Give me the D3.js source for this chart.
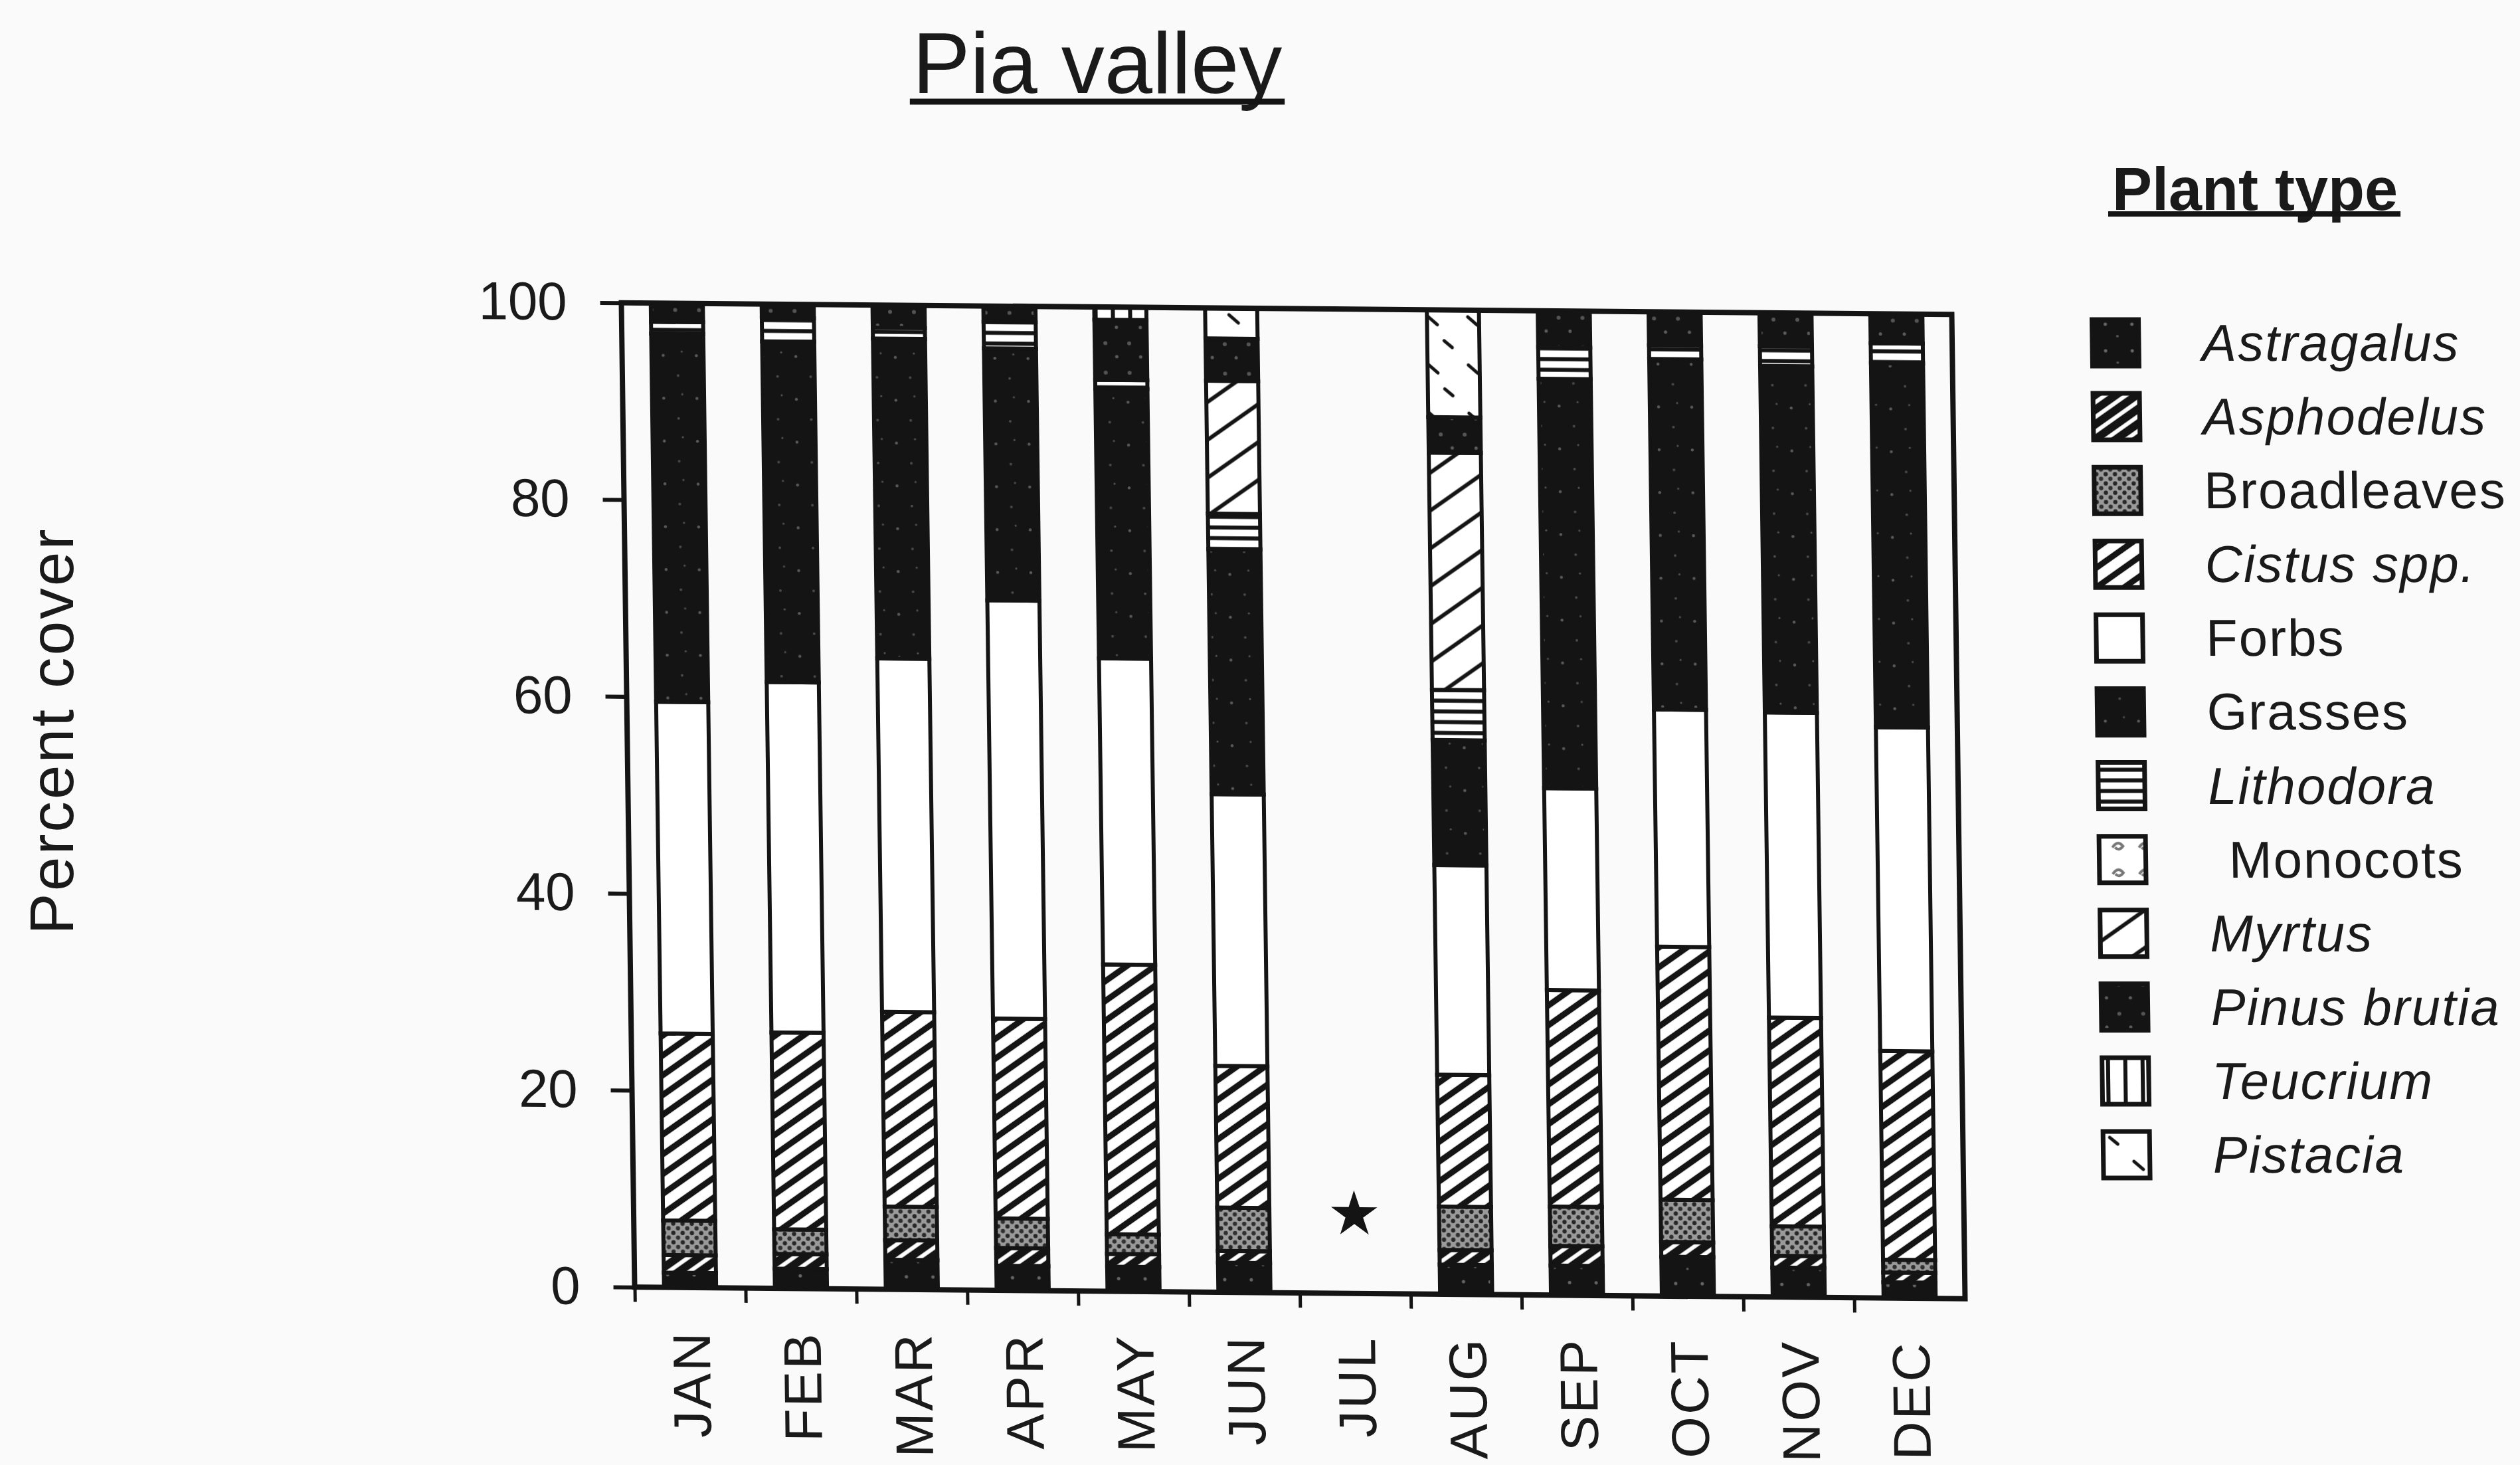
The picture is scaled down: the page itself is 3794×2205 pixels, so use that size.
<!DOCTYPE html>
<html>
<head>
<meta charset="utf-8">
<script src="https://cdn.jsdelivr.net/npm/d3@7"></script>
<style>
  html, body { margin: 0; padding: 0; background: #fafafa; }
  svg { display: block; }
  text { font-family: "Liberation Sans", Arial, Helvetica, sans-serif; fill: #1a1a1a; }
</style>
</head>
<body>
<svg id="chart" width="3794" height="2205"></svg>
<script>
// ---------------- DATA ----------------
const months = ["JAN","FEB","MAR","APR","MAY","JUN","JUL","AUG","SEP","OCT","NOV","DEC"];
const plantTypes = ["Astragalus","Asphodelus","Broadleaves","Cistus spp.","Forbs","Grasses",
                    "Lithodora","Monocots","Myrtus","Pinus brutia","Teucrium","Pistacia"];
const italicTypes = ["Astragalus","Asphodelus","Cistus spp.","Lithodora","Myrtus","Pinus brutia","Teucrium","Pistacia"];

// percent cover per month (JAN..DEC); JUL not sampled
const astragalus  = [1.5, 2.0, 3.0, 2.5, 2.5, 3.0, 0, 3.0, 3.0, 4.0, 3.0, 1.6];
const asphodelus  = [1.8, 1.5, 2.0, 1.8, 1.3, 1.2, 0, 1.5, 2.0, 1.5, 1.2, 1.0];
const broadleaves = [3.5, 2.5, 3.4, 3.0, 2.0, 4.4, 0, 4.4, 4.0, 4.3, 3.0, 1.3];
const cistus      = [19.0, 20.0, 19.8, 20.3, 27.4, 14.4, 0, 13.4, 22.0, 25.7, 21.2, 21.2];
const forbs       = [33.7, 35.6, 35.9, 42.5, 31.1, 27.6, 0, 21.3, 20.5, 24.1, 31.0, 32.9];
const grasses     = [37.4, 34.6, 32.5, 25.6, 27.4, 24.9, 0, 12.7, 41.6, 35.6, 35.2, 37.0];
const lithodora   = [1.2, 2.4, 1.1, 2.7, 0.9, 3.6, 0, 5.1, 3.2, 1.4, 2.0, 2.0];
const monocots    = [0, 0, 0, 0, 0, 0, 0, 0, 0, 0, 0, 0];
const myrtus      = [0, 0, 0, 0, 0, 13.5, 0, 24.1, 0, 0, 0, 0];
const pinusBrutia = [1.9, 1.4, 2.3, 1.6, 6.1, 4.3, 0, 3.6, 3.7, 3.4, 3.4, 3.0];
const teucrium    = [0, 0, 0, 0, 1.3, 0, 0, 0, 0, 0, 0, 0];
const pistacia    = [0, 0, 0, 0, 0, 3.1, 0, 10.9, 0, 0, 0, 0];

const yTicks = [0, 20, 40, 60, 80, 100];
const missingMonth = "JUL";
const missingMarkerValue = 8;

const seriesValues = [astragalus, asphodelus, broadleaves, cistus, forbs, grasses,
                      lithodora, monocots, myrtus, pinusBrutia, teucrium, pistacia];
const table = months.map((m, i) => {
  const row = { month: m };
  plantTypes.forEach((p, k) => { row[p] = seriesValues[k][i]; });
  return row;
});

// ---------------- SETUP ----------------
const INK = "#141414";
const svg = d3.select("#chart");
svg.append("rect").attr("width", 3794).attr("height", 2205).attr("fill", "#fafafa");

const defs = svg.append("defs");
function makePattern(id, w, h, bg, rot) {
  const p = defs.append("pattern").attr("id", id)
    .attr("patternUnits", "userSpaceOnUse").attr("width", w).attr("height", h);
  if (rot) p.attr("patternTransform", `rotate(${rot})`);
  p.append("rect").attr("width", w).attr("height", h).attr("fill", bg);
  return p;
}
// Astragalus: black with faint specks
let p = makePattern("p0", 40, 40, INK);
p.append("circle").attr("cx", 10).attr("cy", 12).attr("r", 2.5).attr("fill", "#666");
p.append("circle").attr("cx", 28).attr("cy", 30).attr("r", 2).attr("fill", "#555");
// Asphodelus: dark with white diagonal stripes
p = makePattern("p1", 18, 18, INK, -35);
p.append("line").attr("x1", 0).attr("x2", 18).attr("y1", 9).attr("y2", 9).attr("stroke", "#fff").attr("stroke-width", 6);
// Broadleaves: dark grey stipple
p = makePattern("p2", 14, 14, "#9a9a9a");
p.append("circle").attr("cx", 3.5).attr("cy", 3.5).attr("r", 3.2).attr("fill", "#262626");
p.append("circle").attr("cx", 10.5).attr("cy", 10.5).attr("r", 3.2).attr("fill", "#303030");
// Cistus: white with black diagonal hatch
p = makePattern("p3", 24, 24, "#fff", -35);
p.append("line").attr("x1", 0).attr("x2", 24).attr("y1", 12).attr("y2", 12).attr("stroke", INK).attr("stroke-width", 9);
// Forbs: white
makePattern("p4", 10, 10, "#fff");
// Grasses: black with sparse grey specks
p = makePattern("p5", 50, 64, INK);
p.append("circle").attr("cx", 12).attr("cy", 14).attr("r", 2.2).attr("fill", "#5a5a5a");
p.append("circle").attr("cx", 34).attr("cy", 44).attr("r", 2).attr("fill", "#4a4a4a");
p.append("circle").attr("cx", 40).attr("cy", 8).attr("r", 1.5).attr("fill", "#505050");
// Lithodora: horizontal stripes
p = makePattern("p6", 16, 16, "#fff");
p.append("line").attr("x1", 0).attr("x2", 16).attr("y1", 8).attr("y2", 8).attr("stroke", INK).attr("stroke-width", 6);
// Monocots: white with grey scribble
p = makePattern("p7", 40, 40, "#fff");
p.append("path").attr("d", "M10,22 q8,-12 16,-2 q-6,8 -12,2").attr("fill", "none").attr("stroke", "#777").attr("stroke-width", 4);
// Myrtus: white with wide diagonal lines
p = makePattern("p8", 46, 46, "#fff", -35);
p.append("line").attr("x1", 0).attr("x2", 46).attr("y1", 23).attr("y2", 23).attr("stroke", INK).attr("stroke-width", 6);
// Pinus brutia: black with grey dots
p = makePattern("p9", 36, 44, INK);
p.append("circle").attr("cx", 9).attr("cy", 10).attr("r", 3).attr("fill", "#555");
p.append("circle").attr("cx", 26).attr("cy", 30).attr("r", 2.5).attr("fill", "#5c5c5c");
// Teucrium: vertical lines
p = makePattern("p10", 26, 10, "#fff");
p.append("line").attr("x1", 13).attr("x2", 13).attr("y1", 0).attr("y2", 10).attr("stroke", INK).attr("stroke-width", 6);
// Pistacia: white with short dashes
p = makePattern("p11", 60, 72, "#fff");
p.append("line").attr("x1", 16).attr("y1", 10).attr("x2", 30).attr("y2", 22).attr("stroke", INK).attr("stroke-width", 5).attr("stroke-linecap", "round");
p.append("line").attr("x1", 40).attr("y1", 46).attr("x2", 52).attr("y2", 56).attr("stroke", INK).attr("stroke-width", 5).attr("stroke-linecap", "round");
const fillOf = k => `url(#p${k})`;

// ---------------- PLOT ----------------
const W = 2006, H = 1471;
// slight shear reproducing the scanned page geometry
const g = svg.append("g").attr("transform", "matrix(0.9985,0.00872,0.0136,1.00714,935.5,455.75)");

const x = d3.scaleBand().domain(months).range([0, W]).paddingInner(0.53).paddingOuter(0.265);
const xSlot = d3.scaleLinear().domain([0, months.length]).range([0, W]);
const y = d3.scaleLinear().domain([0, 100]).range([H, 0]);

const stacked = d3.stack().keys(plantTypes)(table);

const layers = g.append("g").selectAll("g").data(stacked).join("g")
  .attr("fill", (d, i) => fillOf(i));
layers.selectAll("rect")
  .data(d => d.filter(s => s[1] - s[0] > 0))
  .join("rect")
  .attr("x", d => x(d.data.month))
  .attr("width", x.bandwidth())
  .attr("y", d => y(d[1]))
  .attr("height", d => y(d[0]) - y(d[1]))
  .attr("stroke", INK).attr("stroke-width", 6);

// missing-month marker
g.append("path")
  .attr("d", d3.symbol(d3.symbolStar, 1500)())
  .attr("transform", `translate(${x(missingMonth) + x.bandwidth() / 2},${y(missingMarkerValue)})`)
  .attr("fill", INK);

// frame
g.append("rect").attr("x", 0).attr("y", 0).attr("width", W).attr("height", H)
  .attr("fill", "none").attr("stroke", INK).attr("stroke-width", 8);

// y axis
const yAxis = g.append("g").call(d3.axisLeft(y).tickValues(yTicks).tickSize(32).tickPadding(50));
yAxis.select(".domain").remove();
yAxis.selectAll(".tick line").attr("stroke", INK).attr("stroke-width", 6);
yAxis.selectAll(".tick text").attr("font-size", 80).attr("fill", "#1a1a1a")
  .style("font-family", '"Liberation Sans", Arial, sans-serif');

// x ticks at slot boundaries
const xTicks = g.append("g").attr("transform", `translate(0,${H})`)
  .call(d3.axisBottom(xSlot).tickValues(d3.range(months.length)).tickSize(22).tickFormat(""));
xTicks.select(".domain").remove();
xTicks.selectAll(".tick line").attr("stroke", INK).attr("stroke-width", 5);

// month labels
const xLab = g.append("g").attr("transform", `translate(0,${H})`)
  .call(d3.axisBottom(x).tickSize(0).tickPadding(0));
xLab.select(".domain").remove();
xLab.selectAll(".tick text")
  .attr("transform", "rotate(-90)")
  .attr("x", -64).attr("y", 0).attr("dy", "0.36em")
  .attr("text-anchor", "end")
  .attr("font-size", 80).attr("fill", "#1a1a1a")
  .style("letter-spacing", "3px")
  .style("font-family", '"Liberation Sans", Arial, sans-serif');

// y axis title
svg.append("text")
  .attr("transform", "translate(110,1100) rotate(-90)")
  .attr("text-anchor", "middle")
  .attr("font-size", 93)
  .style("letter-spacing", "3px")
  .text("Percent cover");

// title
const title = svg.append("text")
  .attr("x", 1652).attr("y", 140).attr("text-anchor", "middle")
  .attr("font-size", 130)
  .text("Pia valley");
const tw = title.node().getComputedTextLength();
svg.append("line").attr("x1", 1652 - tw / 2 - 4).attr("x2", 1652 + tw / 2 + 4)
  .attr("y1", 153).attr("y2", 153).attr("stroke", INK).attr("stroke-width", 9);

// ---------------- LEGEND ----------------
const legTitle = svg.append("text").attr("x", 3180).attr("y", 316)
  .attr("font-size", 90).attr("font-weight", 700)
  .text("Plant type");
const ltw = legTitle.node().getComputedTextLength();
svg.append("line").attr("x1", 3174).attr("x2", 3180 + ltw + 4)
  .attr("y1", 322).attr("y2", 322).attr("stroke", INK).attr("stroke-width", 8);

const rowY = d3.scalePoint().domain(plantTypes).range([516, 1738]);
const leg = svg.append("g").attr("transform", `matrix(1,0,0.0136,1,${-0.0136 * 516},0)`);
const rows = leg.selectAll("g").data(plantTypes).join("g")
  .attr("transform", d => `translate(0,${rowY(d)})`);
rows.append("rect")
  .attr("x", 3150).attr("y", -35).attr("width", 70).attr("height", 70)
  .attr("fill", (d, i) => fillOf(i))
  .attr("stroke", INK).attr("stroke-width", 7);
rows.append("text")
  .attr("x", d => d === "Monocots" ? 3345 : 3315)
  .attr("y", 27)
  .attr("font-size", 78)
  .attr("font-style", d => italicTypes.includes(d) ? "italic" : "normal")
  .style("letter-spacing", "2px")
  .text(d => d);
</script>
</body>
</html>
